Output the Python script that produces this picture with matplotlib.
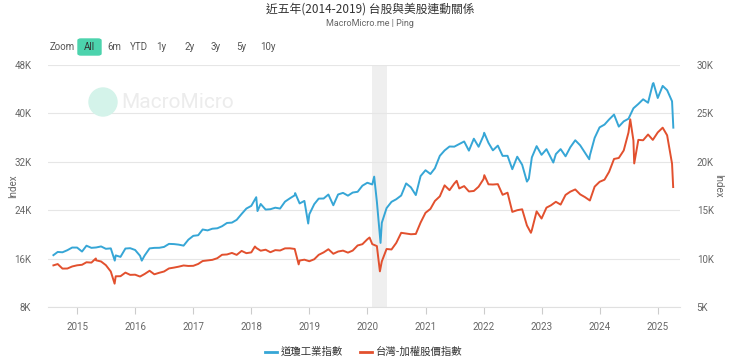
import matplotlib
matplotlib.use("Agg")
import matplotlib.pyplot as plt
import matplotlib.dates as mdates
import matplotlib.ticker as mticker
from matplotlib.patches import FancyBboxPatch, Ellipse
import pandas as pd

plt.rcParams['font.family'] = ['Roboto', 'Noto Sans CJK TC', 'DejaVu Sans']

# month-end closes, Aug 2014 .. Mar 2025
dow_monthly = [
    17098, 17043, 17391, 17828, 17823,
    17165, 18133, 17776, 17841, 18011, 17620, 17690, 16528, 16285, 17664, 17720, 17425,
    16466, 16517, 17685, 17774, 17787, 17930, 18432, 18401, 18308, 18142, 19124, 19763,
    19864, 20812, 20663, 20941, 21009, 21350, 21891, 21948, 22405, 23377, 24272, 24719,
    26149, 25029, 24103, 24163, 24416, 24271, 25415, 25965, 26458, 25116, 25538, 23327,
    24999, 25916, 25929, 26593, 24815, 26600, 26864, 26403, 26917, 27046, 28051, 28538,
    28256, 25409, 21917, 24346, 25383, 25813, 26428, 28430, 27782, 26502, 29639, 30606,
    29983, 30932, 32982, 33875, 34529, 34503, 34935, 35361, 33844, 35820, 34484, 36338,
    35132, 33893, 34678, 32977, 32990, 30775, 32845, 31510, 28726, 32733, 34590, 33147,
    34086, 32657, 33274, 34098, 32908, 34408, 35560, 34722, 33508, 33053, 35951, 37690,
    38150, 38996, 39807, 37816, 38686, 39119, 40843, 41563, 42330, 41763, 44911, 42544,
    44545, 43841, 42002,
]
taiex_monthly = [
    9436, 8967, 8975, 9187, 9307,
    9362, 9622, 9586, 9820, 9701, 9323, 8665, 8174, 8181, 8554, 8320, 8338,
    8145, 8411, 8744, 8377, 8536, 8667, 8984, 9069, 9166, 9290, 9240, 9254,
    9448, 9750, 9812, 9872, 10041, 10395, 10427, 10585, 10384, 10794, 10560, 10643,
    11104, 10815, 10919, 10658, 10875, 10837, 11057, 11064, 10998, 9802, 9888, 9727,
    9932, 10389, 10641, 10967, 10498, 10730, 10824, 10618, 10829, 11358, 11489, 11997,
    11495, 11292, 9708, 10992, 10943, 11621, 12665, 12592, 12516, 12546, 13722, 14732,
    15138, 15953, 16431, 17567, 17068, 17755, 17247, 17490, 16935, 16987, 17427, 18218,
    17674, 17652, 17693, 16592, 16807, 14826, 15000, 15095, 13424, 12949, 14880, 14137,
    15265, 15503, 15868, 15579, 16579, 16915, 17145, 16634, 16353, 16001, 17433, 17930,
    18151, 18966, 20294, 20396, 21174, 23032, 22199, 22268, 22224, 22820, 22262, 23035,
    23526, 22738, 19802,
]
# extra intra-month highs / lows
dow_extra = {
    '2014-08-04': 16570, '2015-08-25': 15666, '2016-02-11': 15660,
    '2018-02-08': 23860, '2018-10-03': 26828, '2018-12-24': 21792,
    '2020-02-12': 29551, '2020-03-23': 18592, '2022-01-04': 36800,
    '2022-10-12': 29210, '2023-03-15': 31875, '2023-10-27': 32418,
    '2024-12-04': 45014, '2025-04-08': 37645,
}
taiex_extra = {
    '2014-08-04': 9300, '2015-04-28': 10014, '2015-08-24': 7410,
    '2018-01-23': 11253, '2018-10-25': 9400, '2020-01-14': 12179,
    '2020-03-19': 8681, '2021-07-15': 18034, '2022-01-05': 18619,
    '2022-10-25': 12666, '2024-07-11': 24390, '2024-08-05': 19830,
    '2025-04-07': 17392,
}

month_ends = pd.date_range('2014-08-31', '2025-03-31', freq='ME')


def build(monthly, extra):
    s = pd.Series(monthly, index=month_ends)
    e = pd.Series(list(extra.values()), index=pd.to_datetime(list(extra.keys())))
    return pd.concat([s, e]).sort_index()


dow = build(dow_monthly, dow_extra)
taiex = build(taiex_monthly, taiex_extra)

BLUE = '#36a6d6'
RED = '#e2502e'
GRAY = '#666666'
CJK = ['Noto Sans CJK TC', 'DejaVu Sans']

fig = plt.figure(figsize=(7.4, 3.63), dpi=100)
ax = fig.add_axes([48 / 740, 1 - 307 / 363, 632 / 740, 242 / 363])
ax2 = ax.twinx()

# recession shading
ax.axvspan(pd.Timestamp('2020-02-01'), pd.Timestamp('2020-04-30'), color='#efefef', zorder=0, lw=0)

ax.plot(dow.index, dow.values, color=BLUE, lw=1.4, zorder=3)
ax2.plot(taiex.index, taiex.values, color=RED, lw=1.4, zorder=3)

ax.set_xlim(pd.Timestamp('2014-07-01'), pd.Timestamp('2025-05-20'))
ax.set_ylim(8000, 48000)
ax2.set_ylim(5000, 30000)
ax.yaxis.set_major_locator(mticker.MultipleLocator(8000))
ax2.yaxis.set_major_locator(mticker.MultipleLocator(5000))
kfmt = mticker.FuncFormatter(lambda v, p: f'{int(v / 1000)}K')
ax.yaxis.set_major_formatter(kfmt)
ax2.yaxis.set_major_formatter(kfmt)

ax.xaxis.set_major_locator(mdates.YearLocator())
ax.xaxis.set_major_formatter(mdates.DateFormatter('%Y'))

ax.grid(axis='y', color='#e6e6e6', lw=0.8)
for a in (ax, ax2):
    for sp in a.spines.values():
        sp.set_visible(False)
ax.spines['bottom'].set_visible(True)
ax.spines['bottom'].set_color('#e0e0e0')
ax.tick_params(axis='x', colors='#cccccc', labelcolor=GRAY, labelsize=7, length=5, pad=6)
ax.tick_params(axis='y', length=0, labelcolor=GRAY, labelsize=7, pad=12)
ax2.tick_params(axis='y', length=0, labelcolor=GRAY, labelsize=7, pad=12)

# axis titles
fig.text(13 / 740, 1 - 186 / 363, 'Index', rotation=90, ha='center', va='center',
         fontsize=7, color=GRAY)
fig.text(718 / 740, 1 - 186 / 363, 'Index', rotation=-90, ha='center', va='center',
         fontsize=7, color=GRAY)

# watermark
fig.patches.append(Ellipse((103 / 740, 1 - 102 / 363), 28 / 740, 28 / 363,
                           transform=fig.transFigure, color='#d4f3ea', zorder=0))
fig.text(121 / 740, 1 - 102 / 363, 'MacroMicro', fontsize=15, color='#ececec',
         va='center', ha='left', zorder=0)

# titles
fig.text(0.5, 1 - 9 / 363, '近五年(2014-2019) 台股與美股連動關係', ha='center', va='center',
         fontsize=8.5, color='#333333', family=CJK)
fig.text(0.5, 1 - 23 / 363, 'MacroMicro.me | Ping', ha='center', va='center',
         fontsize=6.5, color=GRAY)

# range selector
fig.patches.append(FancyBboxPatch((78 / 740, 1 - 55 / 363), 23 / 740, 16 / 363,
                                  boxstyle='round,pad=0,rounding_size=0.004',
                                  transform=fig.transFigure, color='#4cd3ad', zorder=1))
buttons = ['Zoom', 'All', '6m', 'YTD', '1y', '2y', '3y', '5y', '10y']
button_x = [62, 89.5, 114, 139, 161, 190, 216, 241, 268]
for label, bx in zip(buttons, button_x):
    fig.text(bx / 740, 1 - 47 / 363, label, ha='center', va='center', fontsize=7,
             color='#333333' if label == 'All' else '#555555', zorder=2)

# legend
ly = 1 - 352 / 363
fig.add_artist(plt.Line2D([265 / 740, 277 / 740], [ly, ly], color=BLUE, lw=2, transform=fig.transFigure))
fig.text(281 / 740, ly, '道瓊工業指數', va='center', fontsize=7.5, color='#333333', family=CJK)
fig.add_artist(plt.Line2D([360 / 740, 372 / 740], [ly, ly], color=RED, lw=2, transform=fig.transFigure))
fig.text(376 / 740, ly, '台灣-加權股價指數', va='center', fontsize=7.5, color='#333333', family=CJK)

fig.savefig('out.png', dpi=100)
